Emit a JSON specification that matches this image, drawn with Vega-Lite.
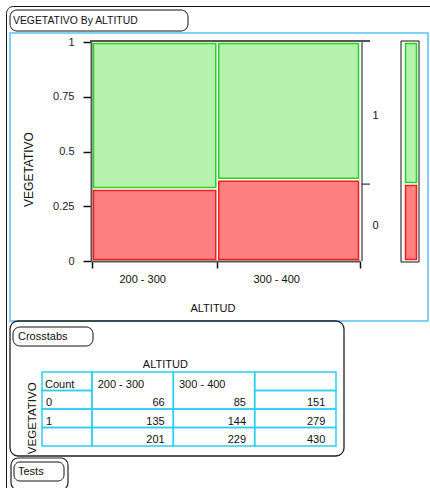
{
  "$schema": "https://vega.github.io/schema/vega-lite/v6.json",
  "background": "white",
  "width": 440,
  "height": 500,
  "padding": {"left": 6, "top": 6, "right": 0, "bottom": 0},
  "autosize": {"type": "none"},
  "view": {"stroke": "#111", "strokeWidth": 1, "cornerRadius": 7},
  "config": {
    "font": "Liberation Sans",
    "text": {"font": "Liberation Sans", "fontSize": 11, "color": "#111"},
    "axis": {
      "labelFont": "Liberation Sans", "labelFontSize": 11, "labelColor": "#222",
      "titleFont": "Liberation Sans", "titleFontSize": 12, "titleFontWeight": "normal", "titleColor": "#111"
    }
  },
  "datasets": {
    "cells": [
      {"altitud": "200 - 300", "vegetativo": "0", "count": 66},
      {"altitud": "200 - 300", "vegetativo": "1", "count": 135},
      {"altitud": "300 - 400", "vegetativo": "0", "count": 85},
      {"altitud": "300 - 400", "vegetativo": "1", "count": 144}
    ],
    "blank": [{}]
  },
  "resolve": {
    "scale": {"x": "independent", "y": "independent", "fill": "independent", "stroke": "independent"},
    "axis": {"x": "independent", "y": "independent"}
  },
  "layer": [
    {
      "data": {"name": "blank"},
      "layer": [
        {
          "mark": {"type": "rect", "filled": false, "color": "#111", "strokeWidth": 1, "cornerRadius": 7},
          "encoding": {
            "x": {"datum": 0, "type": "quantitative", "scale": {"domain": [0, 1], "range": [4, 182]}, "axis": null},
            "x2": {"datum": 1},
            "y": {"datum": 0, "type": "quantitative", "scale": {"domain": [0, 1], "range": [4, 25]}, "axis": null},
            "y2": {"datum": 1}
          }
        },
        {
          "mark": {"type": "text", "align": "left", "baseline": "middle", "dx": 3, "fontSize": 10.4},
          "encoding": {
            "x": {"datum": 0, "type": "quantitative", "axis": null},
            "y": {"datum": 0.5, "type": "quantitative", "axis": null},
            "text": {"value": "VEGETATIVO By ALTITUD"}
          }
        }
      ]
    },
    {
      "data": {"name": "blank"},
      "mark": {"type": "rect", "filled": false, "color": "#58C4EE", "strokeWidth": 1.5},
      "encoding": {
        "x": {"datum": 0, "type": "quantitative", "scale": {"domain": [0, 1], "range": [4, 422]}, "axis": null},
        "x2": {"datum": 1},
        "y": {"datum": 0, "type": "quantitative", "scale": {"domain": [0, 1], "range": [27, 315]}, "axis": null},
        "y2": {"datum": 1}
      }
    },
    {
      "data": {"name": "cells"},
      "layer": [
        {
          "transform": [
            {"stack": "count", "groupby": [], "offset": "normalize",
             "sort": [{"field": "altitud", "order": "ascending"}, {"field": "vegetativo", "order": "ascending"}],
             "as": ["sx0", "sx1"]},
            {"joinaggregate": [{"op": "min", "field": "sx0", "as": "x0"}, {"op": "max", "field": "sx1", "as": "x1"}],
             "groupby": ["altitud"]},
            {"stack": "count", "groupby": ["altitud"], "offset": "normalize",
             "sort": [{"field": "vegetativo", "order": "ascending"}], "as": ["y0", "y1"]}
          ],
          "mark": {"type": "rect", "strokeWidth": 1.5, "xOffset": 1.5, "x2Offset": -1.5, "yOffset": -1.5, "y2Offset": 1.5},
          "encoding": {
            "x": {
              "field": "x0", "type": "quantitative",
              "scale": {"domain": [0, 1], "range": [86, 354], "nice": false, "zero": false},
              "axis": {
                "orient": "bottom", "offset": -245, "values": [0, 0.46744, 1], "labels": false,
                "tickSize": 7, "tickColor": "#111", "tickWidth": 1.5, "domainColor": "#555", "domainWidth": 2, "grid": false,
                "title": "ALTITUD", "titleFontSize": 11, "titleX": 206.5, "titleY": 47, "titleBaseline": "middle", "titleAlign": "center"
              }
            },
            "x2": {"field": "x1"},
            "y": {
              "field": "y0", "type": "quantitative",
              "scale": {"domain": [0, 1], "range": [255, 36], "nice": false, "zero": false},
              "axis": {
                "orient": "left", "offset": -85, "values": [0, 0.25, 0.5, 0.75, 1], "format": ".2~f",
                "tickSize": 8, "tickColor": "#111", "tickWidth": 1.5, "labelPadding": 9,
                "domainColor": "#555", "domainWidth": 2, "grid": false,
                "title": "VEGETATIVO", "titleX": -63, "titleY": 163, "titleAngle": 270, "titleBaseline": "middle", "titleAlign": "center"
              }
            },
            "y2": {"field": "y1"},
            "fill": {"field": "vegetativo", "type": "nominal", "scale": {"domain": ["0", "1"], "range": ["#FF8080", "#B5F2AD"]}, "legend": null},
            "stroke": {"field": "vegetativo", "type": "nominal", "scale": {"domain": ["0", "1"], "range": ["#F01E1E", "#27D327"]}, "legend": null}
          }
        },
        {
          "data": {"name": "blank"},
          "mark": {"type": "rule", "color": "#555", "strokeWidth": 2, "xOffset": -2, "x2Offset": 10, "yOffset": -1},
          "encoding": {"x": {"datum": 0, "type": "quantitative"}, "x2": {"datum": 1}, "y": {"datum": 1, "type": "quantitative"}}
        },
        {
          "data": {"name": "blank"},
          "mark": {"type": "rule", "color": "#111", "strokeWidth": 1, "xOffset": 2},
          "encoding": {"x": {"datum": 1, "type": "quantitative"}, "y": {"datum": 0, "type": "quantitative"}, "y2": {"datum": 1}}
        },
        {
          "transform": [
            {"aggregate": [{"op": "sum", "field": "count", "as": "n"}], "groupby": ["vegetativo"]},
            {"stack": "n", "groupby": [], "offset": "normalize", "sort": [{"field": "vegetativo", "order": "ascending"}], "as": ["m0", "m1"]},
            {"filter": "datum.vegetativo === '0'"}
          ],
          "mark": {"type": "rule", "color": "#111", "strokeWidth": 1, "xOffset": 2, "x2Offset": 10},
          "encoding": {"x": {"datum": 1, "type": "quantitative"}, "x2": {"datum": 1}, "y": {"field": "m1", "type": "quantitative"}}
        },
        {
          "transform": [
            {"aggregate": [{"op": "sum", "field": "count", "as": "n"}], "groupby": ["vegetativo"]},
            {"stack": "n", "groupby": [], "offset": "normalize", "sort": [{"field": "vegetativo", "order": "ascending"}], "as": ["m0", "m1"]},
            {"fold": ["m0", "m1"]},
            {"aggregate": [{"op": "mean", "field": "value", "as": "mid"}], "groupby": ["vegetativo"]}
          ],
          "mark": {"type": "text", "align": "center", "baseline": "middle", "dx": 15.5, "dy": 3},
          "encoding": {"x": {"datum": 1, "type": "quantitative"}, "y": {"field": "mid", "type": "quantitative"}, "text": {"field": "vegetativo"}}
        },
        {
          "transform": [
            {"aggregate": [{"op": "sum", "field": "count", "as": "n"}], "groupby": ["altitud"]},
            {"stack": "n", "groupby": [], "offset": "normalize", "sort": [{"field": "altitud", "order": "ascending"}], "as": ["a0", "a1"]},
            {"fold": ["a0", "a1"]},
            {"aggregate": [{"op": "mean", "field": "value", "as": "mid"}], "groupby": ["altitud"]}
          ],
          "mark": {"type": "text", "align": "center", "baseline": "middle", "dx": -12, "dy": 19},
          "encoding": {"x": {"field": "mid", "type": "quantitative"}, "y": {"datum": 0, "type": "quantitative"}, "text": {"field": "altitud"}}
        }
      ]
    },
    {
      "layer": [
        {
          "data": {"name": "blank"},
          "mark": {"type": "rect", "filled": false, "color": "#111", "strokeWidth": 1, "yOffset": 1, "y2Offset": -1},
          "encoding": {
            "x": {"datum": 0, "type": "quantitative", "scale": {"domain": [0, 1], "range": [395, 413]}, "axis": null},
            "x2": {"datum": 1},
            "y": {"datum": 0, "type": "quantitative", "scale": {"domain": [0, 1], "range": [255, 36]}, "axis": null},
            "y2": {"datum": 1}
          }
        },
        {
          "data": {"name": "cells"},
          "transform": [
            {"aggregate": [{"op": "sum", "field": "count", "as": "n"}], "groupby": ["vegetativo"]},
            {"stack": "n", "groupby": [], "offset": "normalize", "sort": [{"field": "vegetativo", "order": "ascending"}], "as": ["m0", "m1"]}
          ],
          "mark": {"type": "rect", "strokeWidth": 1.5, "xOffset": 4.5, "x2Offset": -2.5, "yOffset": -1.5, "y2Offset": 1.5},
          "encoding": {
            "x": {"datum": 0, "type": "quantitative", "axis": null},
            "x2": {"datum": 1},
            "y": {"field": "m0", "type": "quantitative", "axis": null},
            "y2": {"field": "m1"},
            "fill": {"field": "vegetativo", "type": "nominal", "scale": {"domain": ["0", "1"], "range": ["#FF8080", "#B5F2AD"]}, "legend": null},
            "stroke": {"field": "vegetativo", "type": "nominal", "scale": {"domain": ["0", "1"], "range": ["#F01E1E", "#27D327"]}, "legend": null}
          }
        }
      ]
    },
    {
      "data": {"name": "blank"},
      "mark": {"type": "rect", "filled": false, "color": "#222", "strokeWidth": 1.3, "cornerRadius": 8},
      "encoding": {
        "x": {"datum": 0, "type": "quantitative", "scale": {"domain": [0, 1], "range": [4, 338]}, "axis": null},
        "x2": {"datum": 1},
        "y": {"datum": 0, "type": "quantitative", "scale": {"domain": [0, 1], "range": [315, 450]}, "axis": null},
        "y2": {"datum": 1}
      }
    },
    {
      "data": {"name": "blank"},
      "layer": [
        {
          "mark": {"type": "rect", "filled": false, "color": "#111", "strokeWidth": 1, "cornerRadius": 7},
          "encoding": {
            "x": {"datum": 0, "type": "quantitative", "scale": {"domain": [0, 1], "range": [7, 87]}, "axis": null},
            "x2": {"datum": 1},
            "y": {"datum": 0, "type": "quantitative", "scale": {"domain": [0, 1], "range": [321, 340]}, "axis": null},
            "y2": {"datum": 1}
          }
        },
        {
          "mark": {"type": "text", "align": "left", "baseline": "middle", "dx": 5},
          "encoding": {
            "x": {"datum": 0, "type": "quantitative", "axis": null},
            "y": {"datum": 0.5, "type": "quantitative", "axis": null},
            "text": {"value": "Crosstabs"}
          }
        }
      ]
    },
    {
      "resolve": {"scale": {"x": "independent"}},
      "layer": [
        {
          "data": {"name": "cells"},
          "layer": [
            {
              "data": {"name": "blank"},
              "mark": {"type": "rect", "filled": false, "color": "#2CCFF2", "strokeWidth": 1.5},
              "encoding": {
                "x": {"datum": "Count", "type": "nominal", "scale": {"type": "band", "domain": ["Count"], "range": [36, 86], "paddingInner": 0, "paddingOuter": 0}, "axis": null},
                "y": {"datum": "Count", "type": "nominal", "scale": {"type": "band", "domain": ["header", "Count", "0", "1", "Total"], "range": [347.5, 440], "paddingInner": 0, "paddingOuter": 0}, "axis": null}
              }
            },
            {
              "transform": [{"aggregate": [{"op": "sum", "field": "count", "as": "n"}], "groupby": ["vegetativo"]}],
              "mark": {"type": "rect", "filled": false, "color": "#2CCFF2", "strokeWidth": 1.5},
              "encoding": {
                "x": {"datum": "Count", "type": "nominal", "axis": null},
                "y": {"field": "vegetativo", "type": "nominal", "axis": null}
              }
            },
            {
              "data": {"name": "blank"},
              "mark": {"type": "rect", "filled": false, "color": "#2CCFF2", "strokeWidth": 1.5},
              "encoding": {
                "x": {"datum": "Count", "type": "nominal", "axis": null},
                "y": {"datum": "Total", "type": "nominal", "axis": null}
              }
            },
            {
              "data": {"name": "blank"},
              "mark": {"type": "text", "align": "left", "baseline": "middle", "dx": -22, "dy": 3.5},
              "encoding": {
                "x": {"datum": "Count", "type": "nominal", "axis": null},
                "y": {"datum": "Count", "type": "nominal", "axis": null},
                "text": {"value": "Count"}
              }
            },
            {
              "transform": [{"aggregate": [{"op": "sum", "field": "count", "as": "n"}], "groupby": ["vegetativo"]}],
              "mark": {"type": "text", "align": "left", "baseline": "middle", "dx": -21, "dy": 3.5},
              "encoding": {
                "x": {"datum": "Count", "type": "nominal", "axis": null},
                "y": {"field": "vegetativo", "type": "nominal", "axis": null},
                "text": {"field": "vegetativo"}
              }
            },
            {
              "data": {"name": "blank"},
              "mark": {"type": "text", "angle": 270, "align": "center", "baseline": "middle", "dy": -9.5, "fontSize": 11.5},
              "encoding": {
                "x": {"datum": "Count", "type": "nominal", "bandPosition": 0, "axis": null},
                "y": {"datum": "1", "type": "nominal", "axis": null},
                "text": {"value": "VEGETATIVO"}
              }
            }
          ]
        },
        {
          "data": {"name": "cells"},
          "layer": [
            {
              "transform": [{"filter": "datum.vegetativo === '0'"}],
              "mark": {"type": "rect", "filled": false, "color": "#2CCFF2", "strokeWidth": 1.5},
              "encoding": {
                "x": {"field": "altitud", "type": "nominal", "scale": {"type": "band", "domain": ["200 - 300", "300 - 400", "Total"], "range": [86, 330], "paddingInner": 0, "paddingOuter": 0}, "axis": null},
                "y": {"datum": "Count", "type": "nominal", "bandPosition": 0, "scale": {"type": "band", "domain": ["header", "Count", "0", "1", "Total"], "range": [347.5, 440], "paddingInner": 0, "paddingOuter": 0}, "axis": null},
                "y2": {"datum": "0", "bandPosition": 1}
              }
            },
            {
              "transform": [{"filter": "datum.vegetativo === '1'"}],
              "mark": {"type": "rect", "filled": false, "color": "#2CCFF2", "strokeWidth": 1.5},
              "encoding": {
                "x": {"field": "altitud", "type": "nominal", "axis": null},
                "y": {"field": "vegetativo", "type": "nominal", "axis": null}
              }
            },
            {
              "transform": [{"aggregate": [{"op": "sum", "field": "count", "as": "n"}], "groupby": ["altitud"]}],
              "mark": {"type": "rect", "filled": false, "color": "#2CCFF2", "strokeWidth": 1.5},
              "encoding": {
                "x": {"field": "altitud", "type": "nominal", "axis": null},
                "y": {"datum": "Total", "type": "nominal", "axis": null}
              }
            },
            {
              "data": {"name": "blank"},
              "mark": {"type": "rect", "filled": false, "color": "#2CCFF2", "strokeWidth": 1.5},
              "encoding": {
                "x": {"datum": "Total", "type": "nominal", "axis": null},
                "y": {"datum": "Count", "type": "nominal", "axis": null}
              }
            },
            {
              "transform": [{"aggregate": [{"op": "sum", "field": "count", "as": "n"}], "groupby": ["vegetativo"]}],
              "mark": {"type": "rect", "filled": false, "color": "#2CCFF2", "strokeWidth": 1.5},
              "encoding": {
                "x": {"datum": "Total", "type": "nominal", "axis": null},
                "y": {"field": "vegetativo", "type": "nominal", "axis": null}
              }
            },
            {
              "data": {"name": "blank"},
              "mark": {"type": "rect", "filled": false, "color": "#2CCFF2", "strokeWidth": 1.5},
              "encoding": {
                "x": {"datum": "Total", "type": "nominal", "axis": null},
                "y": {"datum": "Total", "type": "nominal", "axis": null}
              }
            },
            {
              "transform": [{"aggregate": [{"op": "count", "as": "k"}], "groupby": ["altitud"]}],
              "mark": {"type": "text", "align": "left", "baseline": "middle", "dx": -35, "dy": 3.5},
              "encoding": {
                "x": {"field": "altitud", "type": "nominal", "axis": null},
                "y": {"datum": "Count", "type": "nominal", "axis": null},
                "text": {"field": "altitud"}
              }
            },
            {
              "mark": {"type": "text", "align": "right", "baseline": "middle", "dx": 32, "dy": 3.5},
              "encoding": {
                "x": {"field": "altitud", "type": "nominal", "axis": null},
                "y": {"field": "vegetativo", "type": "nominal", "axis": null},
                "text": {"field": "count", "type": "quantitative"}
              }
            },
            {
              "transform": [{"aggregate": [{"op": "sum", "field": "count", "as": "n"}], "groupby": ["altitud"]}],
              "mark": {"type": "text", "align": "right", "baseline": "middle", "dx": 32, "dy": 3.5},
              "encoding": {
                "x": {"field": "altitud", "type": "nominal", "axis": null},
                "y": {"datum": "Total", "type": "nominal", "axis": null},
                "text": {"field": "n", "type": "quantitative"}
              }
            },
            {
              "transform": [{"aggregate": [{"op": "sum", "field": "count", "as": "n"}], "groupby": ["vegetativo"]}],
              "mark": {"type": "text", "align": "right", "baseline": "middle", "dx": 30, "dy": 3.5},
              "encoding": {
                "x": {"datum": "Total", "type": "nominal", "axis": null},
                "y": {"field": "vegetativo", "type": "nominal", "axis": null},
                "text": {"field": "n", "type": "quantitative"}
              }
            },
            {
              "transform": [{"aggregate": [{"op": "sum", "field": "count", "as": "n"}]}],
              "mark": {"type": "text", "align": "right", "baseline": "middle", "dx": 30, "dy": 3.5},
              "encoding": {
                "x": {"datum": "Total", "type": "nominal", "axis": null},
                "y": {"datum": "Total", "type": "nominal", "axis": null},
                "text": {"field": "n", "type": "quantitative"}
              }
            },
            {
              "data": {"name": "blank"},
              "mark": {"type": "text", "align": "center", "baseline": "middle", "dx": -8, "dy": 2},
              "encoding": {
                "x": {"datum": "300 - 400", "type": "nominal", "bandPosition": 0, "axis": null},
                "y": {"datum": "header", "type": "nominal", "axis": null},
                "text": {"value": "ALTITUD"}
              }
            }
          ]
        }
      ]
    },
    {
      "data": {"name": "blank"},
      "mark": {"type": "rect", "filled": false, "color": "#222", "strokeWidth": 1.2, "cornerRadius": 7},
      "encoding": {
        "x": {"datum": 0, "type": "quantitative", "scale": {"domain": [0, 1], "range": [5, 62]}, "axis": null},
        "x2": {"datum": 1},
        "y": {"datum": 0, "type": "quantitative", "scale": {"domain": [0, 1], "range": [452, 484]}, "axis": null},
        "y2": {"datum": 1}
      }
    },
    {
      "data": {"name": "blank"},
      "layer": [
        {
          "mark": {"type": "rect", "filled": false, "color": "#111", "strokeWidth": 1, "cornerRadius": 6},
          "encoding": {
            "x": {"datum": 0, "type": "quantitative", "scale": {"domain": [0, 1], "range": [8, 58]}, "axis": null},
            "x2": {"datum": 1},
            "y": {"datum": 0, "type": "quantitative", "scale": {"domain": [0, 1], "range": [456, 475]}, "axis": null},
            "y2": {"datum": 1}
          }
        },
        {
          "mark": {"type": "text", "align": "left", "baseline": "middle", "dx": 4},
          "encoding": {
            "x": {"datum": 0, "type": "quantitative", "axis": null},
            "y": {"datum": 0.5, "type": "quantitative", "axis": null},
            "text": {"value": "Tests"}
          }
        }
      ]
    }
  ]
}
